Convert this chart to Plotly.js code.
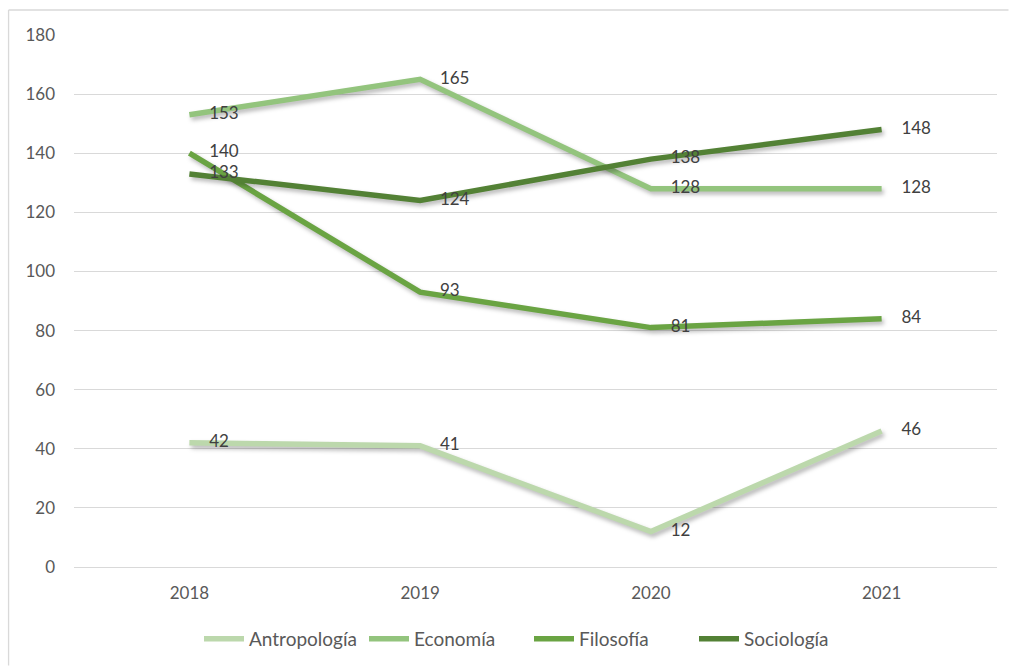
<!DOCTYPE html>
<html>
<head>
<meta charset="utf-8">
<script src="https://cdn.plot.ly/plotly-3.0.1.min.js"></script>
<style>html,body{margin:0;padding:0;background:#fff;}#chart{width:1009px;height:666px;}
.scatterlayer .trace path.js-line{filter:drop-shadow(2px 3px 2px rgba(0,0,0,0.28));}
</style>
</head>
<body>
<div id="chart"></div>
<script>
const years = ["2018", "2019", "2020", "2021"];
const seriesNames = ["Antropología", "Economía", "Filosofía", "Sociología"];
const antropologia = [42, 41, 12, 46];
const economia = [153, 165, 128, 128];
const filosofia = [140, 93, 81, 84];
const sociologia = [133, 124, 138, 148];
const yTicks = [0, 20, 40, 60, 80, 100, 120, 140, 160, 180];

const colors = ["#BCD8AC", "#93C47D", "#6AA443", "#538135"];
const allValues = [antropologia, economia, filosofia, sociologia];
const FONT = "Lato, 'Liberation Sans', sans-serif";

const traces = allValues.map((vals, i) => ({
  type: "scatter",
  mode: "lines+markers+text",
  name: seriesNames[i],
  x: years,
  y: vals,
  text: vals.map(String),
  textposition: "middle right",
  textfont: {family: FONT, size: 17, color: "#404040"},
  line: {color: colors[i], width: 5.5},
  marker: {size: 30, color: "rgba(0,0,0,0)"},
  cliponaxis: false,
  hoverinfo: "x+y+name"
}));

const L = 73.5, R = 997.5, T = 35, B = 567.5;
const W = R - L, H = B - T;
const px = v => (v - L) / W;
const py = v => (B - v) / H;

const layout = {
  width: 1009,
  height: 666,
  margin: {l: L, r: 1009 - R, t: T, b: 666 - B, autoexpand: false},
  paper_bgcolor: "#ffffff",
  plot_bgcolor: "#ffffff",
  font: {family: FONT, color: "#595959", size: 17},
  showlegend: true,
  legend: {
    orientation: "h",
    xref: "container", yref: "container",
    x: 529 / 1009, xanchor: "center",
    y: (666 - 639) / 666, yanchor: "middle",
    font: {size: 19, color: "#595959"},
    itemwidth: 40,
    entrywidth: 110,
    entrywidthmode: "pixels",
    traceorder: "normal"
  },
  xaxis: {
    type: "category",
    range: [-0.5, 3.5],
    showgrid: false,
    zeroline: false,
    showline: false,
    ticks: "",
    ticklabelstandoff: 14,
    tickfont: {size: 17, color: "#595959"},
    fixedrange: true
  },
  yaxis: {
    range: [0, 180],
    tickvals: yTicks,
    ticktext: yTicks.map(String),
    showgrid: true,
    gridcolor: "#D9D9D9",
    gridwidth: 1.3,
    zeroline: true,
    zerolinecolor: "#D9D9D9",
    zerolinewidth: 1.3,
    showline: false,
    ticks: "",
    ticklabelstandoff: 18,
    tickfont: {size: 17, color: "#595959"},
    fixedrange: true
  },
  shapes: [
    {type: "line", xref: "paper", yref: "paper", x0: px(8), x1: px(1009), y0: py(10), y1: py(10), line: {color: "#D9D9D9", width: 1.3}},
    {type: "line", xref: "paper", yref: "paper", x0: px(8), x1: px(8), y0: py(10), y1: py(666), line: {color: "#D9D9D9", width: 1.3}}
  ]
};

Plotly.newPlot("chart", traces, layout, {displayModeBar: false, staticPlot: false});
</script>
</body>
</html>
